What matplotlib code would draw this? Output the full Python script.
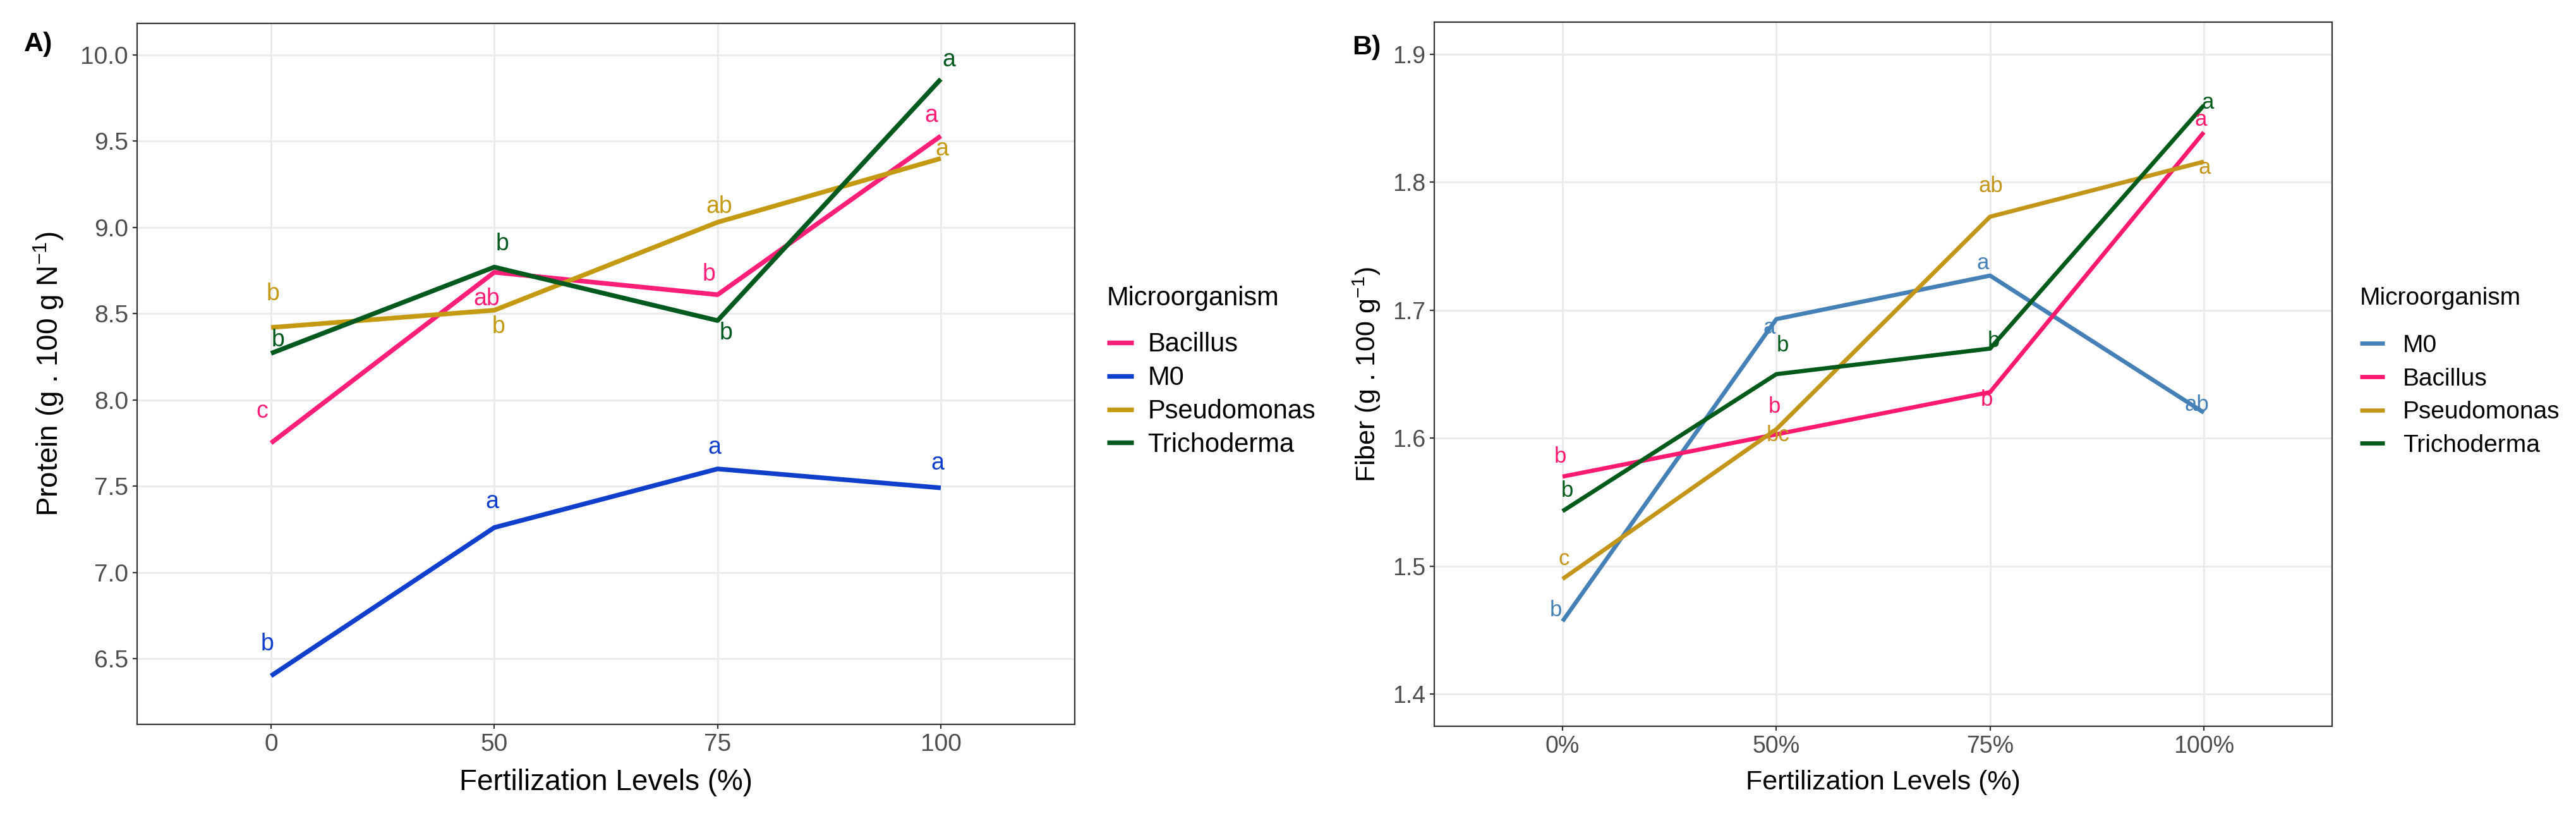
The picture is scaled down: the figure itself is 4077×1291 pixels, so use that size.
import numpy as np
import matplotlib.pyplot as plt

plt.rcParams['font.family'] = ['Liberation Sans', 'DejaVu Sans']
plt.rcParams['mathtext.default'] = 'regular'

# ---- data ----
levels_a = ['0', '50', '75', '100']
levels_b = ['0%', '50%', '75%', '100%']

protein_bacillus = [7.75, 8.74, 8.61, 9.53]
protein_m0 = [6.40, 7.26, 7.60, 7.49]
protein_pseudomonas = [8.42, 8.52, 9.03, 9.40]
protein_trichoderma = [8.27, 8.77, 8.46, 9.86]

protein_letters_bacillus = ['c', 'ab', 'b', 'a']
protein_letters_m0 = ['b', 'a', 'a', 'a']
protein_letters_pseudomonas = ['b', 'b', 'ab', 'a']
protein_letters_trichoderma = ['b', 'b', 'b', 'a']

fiber_m0 = [1.457, 1.693, 1.727, 1.620]
fiber_bacillus = [1.570, 1.603, 1.636, 1.839]
fiber_pseudomonas = [1.490, 1.607, 1.773, 1.816]
fiber_trichoderma = [1.543, 1.650, 1.670, 1.860]

fiber_letters_m0 = ['b', 'a', 'a', 'ab']
fiber_letters_bacillus = ['b', 'b', 'b', 'a']
fiber_letters_pseudomonas = ['c', 'bc', 'ab', 'a']
fiber_letters_trichoderma = ['b', 'b', 'b', 'a']

# ---- label nudges (pixels: dx, dy up) ----
nudge_a = {
    'Bacillus': [(-14, 50), (-12, -42), (-14, 32), (-15, 32)],
    'M0': [(-6, 50), (-4, 41), (-5, 34), (-5, 39)],
    'Pseudomonas': [(3, 53), (7, -26), (3, 25), (2, 15)],
    'Trichoderma': [(11, 21), (13, 37), (13, -20), (13, 30)],
}
nudge_b = {
    'M0': [(-11, 17), (-11, -14), (-11, 20), (-11, 12)],
    'Bacillus': [(-4, 32), (-3, 44), (-5, -12), (-5, 20)],
    'Pseudomonas': [(2, 32), (3, -9), (1, 48), (1, -10)],
    'Trichoderma': [(7, 32), (10, 46), (6, 12), (6, 4)],
}

series_a = [
    ('Bacillus', protein_bacillus, protein_letters_bacillus, '#FF1F78'),
    ('M0', protein_m0, protein_letters_m0, '#103FCC'),
    ('Pseudomonas', protein_pseudomonas, protein_letters_pseudomonas, '#C39A12'),
    ('Trichoderma', protein_trichoderma, protein_letters_trichoderma, '#005A1E'),
]
series_b = [
    ('M0', fiber_m0, fiber_letters_m0, '#4580B6'),
    ('Bacillus', fiber_bacillus, fiber_letters_bacillus, '#FF1A70'),
    ('Pseudomonas', fiber_pseudomonas, fiber_letters_pseudomonas, '#C3961A'),
    ('Trichoderma', fiber_trichoderma, fiber_letters_trichoderma, '#005A1A'),
]

W, H = 4077, 1291
PX = 0.72  # pixels -> points at dpi 100

fig = plt.figure(figsize=(W / 100, H / 100), dpi=100)
axA = fig.add_axes([217 / W, 1 - 1146 / H, (1701 - 217) / W, (1146 - 37) / H])
axB = fig.add_axes([2270 / W, 1 - 1149 / H, (3691 - 2270) / W, (1149 - 35) / H])


def style_axes(ax, tick_fs):
    ax.set_facecolor('white')
    ax.grid(True, color='#EBEBEB', lw=2.2)
    ax.set_axisbelow(True)
    for sp in ax.spines.values():
        sp.set_color('#333333')
        sp.set_linewidth(1.6)
    ax.tick_params(length=5, width=1.6, color='#333333', labelcolor='#4D4D4D',
                   labelsize=tick_fs, pad=5)


def draw(ax, series, levels, nudges, letter_fs, lw):
    x = np.arange(len(levels))
    for name, vals, letters, col in series:
        ax.plot(x, vals, color=col, lw=lw, label=name, solid_capstyle='butt')
        for xi, v, lab, (dx, dy) in zip(x, vals, letters, nudges[name]):
            ax.annotate(lab, (xi, v), xytext=(dx * PX, dy * PX), textcoords='offset points',
                        ha='center', va='center', color=col, fontsize=letter_fs)
    ax.set_xticks(x)
    ax.set_xticklabels(levels)
    ax.set_xlim(-0.6, len(levels) - 0.4)


# ---- panel A ----
style_axes(axA, 28)
draw(axA, series_a, levels_a, nudge_a, 27, 5.3)
axA.set_ylim(6.119, 10.183)
axA.set_yticks([6.5, 7.0, 7.5, 8.0, 8.5, 9.0, 9.5, 10.0])
axA.set_yticklabels(['6.5', '7.0', '7.5', '8.0', '8.5', '9.0', '9.5', '10.0'])
axA.set_xlabel('Fertilization Levels (%)', fontsize=33)
axA.set_ylabel('Protein (g . 100 g N$^{-1}$)', fontsize=33)
axA.xaxis.set_label_coords(0.5, -0.083)
axA.xaxis.label.set_va('center')
axA.yaxis.set_label_coords((77 - 217) / 1484, 0.5)
axA.yaxis.label.set_va('center')
legA = axA.legend(loc='upper left', bbox_to_anchor=(1752 / W, 1 - 452 / H),
                  bbox_transform=fig.transFigure, frameon=False, title='Microorganism',
                  fontsize=30, title_fontsize=30, borderpad=0, borderaxespad=0,
                  handlelength=1.0, handletextpad=0.55, labelspacing=0.31,
                  alignment='left')
legA._legend_box.sep = 24

# ---- panel B ----
style_axes(axB, 27)
draw(axB, series_b, levels_b, nudge_b, 25, 4.8)
axB.set_ylim(1.375, 1.925)
axB.set_yticks([1.4, 1.5, 1.6, 1.7, 1.8, 1.9])
axB.set_yticklabels(['1.4', '1.5', '1.6', '1.7', '1.8', '1.9'])
axB.set_xlabel('Fertilization Levels (%)', fontsize=31)
axB.set_ylabel('Fiber (g . 100 g$^{-1}$)', fontsize=31)
axB.xaxis.set_label_coords(0.5, -0.080)
axB.xaxis.label.set_va('center')
axB.yaxis.set_label_coords((2163 - 2270) / 1421, 0.5)
axB.yaxis.label.set_va('center')
legB = axB.legend(loc='upper left', bbox_to_anchor=(3735 / W, 1 - 454 / H),
                  bbox_transform=fig.transFigure, frameon=False, title='Microorganism',
                  fontsize=28, title_fontsize=28, borderpad=0, borderaxespad=0,
                  handlelength=1.0, handletextpad=0.75, labelspacing=0.43,
                  alignment='left')
legB._legend_box.sep = 28

fig.text(38 / W, 1 - 81 / H, 'A)', fontsize=31, fontweight='bold', va='baseline')
fig.text(2140 / W, 1 - 86 / H, 'B)', fontsize=31, fontweight='bold', va='baseline')

fig.savefig('out.png', dpi=100, facecolor='white')
